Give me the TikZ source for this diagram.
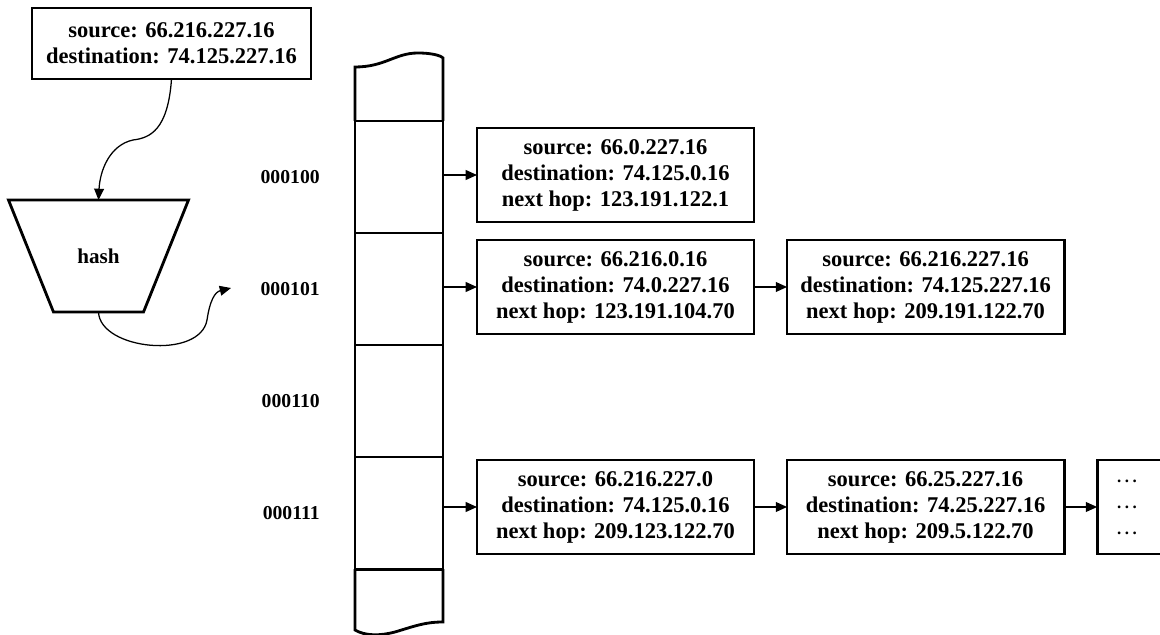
\documentclass[tikz,border=0pt]{standalone}
\usepackage{fontspec}
\setmainfont{Liberation Serif}
\usetikzlibrary{arrows.meta, positioning}
\newcommand{\moredots}{.\kern2.5pt.\kern2.5pt.}
\tikzset{
  entry/.style={rectangle, draw, line width=2pt, fill=white,
    minimum width=6.925cm, minimum height=2.35cm, align=center,
    font=\fontsize{16}{18.5}\selectfont\bfseries, inner sep=0pt, outer sep=0pt},
  slot/.style={rectangle, draw, line width=2pt,
    minimum width=2.2cm, minimum height=2.8cm, inner sep=0pt, outer sep=0pt},
  hashbox/.style={rectangle, minimum width=4.5cm, minimum height=2.8cm,
    inner sep=0pt, outer sep=0pt, font=\fontsize{15}{18}\selectfont\bfseries},
  label/.style={font=\fontsize{14}{17}\selectfont\bfseries, inner sep=0pt},
  edge/.style={line width=2pt},
  arrow/.style={-{Triangle[length=8pt, width=7pt]}, line width=0.9pt},
  curvearrow/.style={-{Triangle[length=8pt, width=7pt]}, line width=0.9pt}
}
\begin{document}
\begin{tikzpicture}[x=0.025cm, y=-0.025cm]
  \clip (0,0) rectangle (1160,635);
  % packet to hash
  \node[entry, minimum width=6.975cm, minimum height=1.775cm] (pkt) at (171.5,43.5)
    {source: 66.216.227.16\\destination: 74.125.227.16};
  \node[hashbox] (hash) at (98.5,256) {hash};
  \draw[edge] (hash.north west) -- (hash.north east)
    -- ([xshift=-1.125cm]hash.south east) -- ([xshift=1.125cm]hash.south west) -- cycle;
  \coordinate (hashout) at (231,288);

  % table
  \node[slot] (slot1) at (399,177) {};
  \node[slot, below=0cm of slot1] (slot2) {};
  \node[slot, below=0cm of slot2] (slot3) {};
  \node[slot, below=0cm of slot3] (slot4) {};
  \draw[edge] (slot1.north west) -- (355,67)
    .. controls (385,67) and (395,53) .. (418,53)
    .. controls (430,53) and (440,55) .. (443,58) -- (slot1.north east);
  \draw[edge] (slot4.south west) -- (355,630)
    .. controls (365,636) and (380,636) .. (395,632)
    .. controls (415,626) and (425,622) .. (443,622) -- (slot4.south east);
  \node[label, left=0.875cm of slot1] (key1) {000100};
  \node[label, left=0.875cm of slot2] (key2) {000101};
  \node[label, left=0.875cm of slot3] (key3) {000110};
  \node[label, left=0.875cm of slot4] (key4) {000111};

  % chains
  \node[entry] (e11) at (615.5,175)
    {source: 66.0.227.16\\destination: 74.125.0.16\\next hop: 123.191.122.1};
  \node[entry] (e21) at (615.5,287)
    {source: 66.216.0.16\\destination: 74.0.227.16\\next hop: 123.191.104.70};
  \node[entry, right=0.825cm of e21] (e22)
    {source: 66.216.227.16\\destination: 74.125.227.16\\next hop: 209.191.122.70};
  \node[entry] (e41) at (615.5,507)
    {source: 66.216.227.0\\destination: 74.125.0.16\\next hop: 209.123.122.70};
  \node[entry, right=0.825cm of e41] (e42)
    {source: 66.25.227.16\\destination: 74.25.227.16\\next hop: 209.5.122.70};
  \node[entry, right=0.825cm of e42, minimum width=2cm, text width=1.6cm, align=left,
    font=\fontsize{12}{18.5}\selectfont\bfseries] (e43)
    {\hspace{0.3cm}\moredots\\\hspace{0.3cm}\moredots\\\hspace{0.3cm}\moredots};

  \draw[curvearrow] (pkt.south) .. controls (168,130) and (150,138) .. (133,140)
    .. controls (110,145) and (100,170) .. (hash.north);
  \draw[curvearrow] (hash.south) .. controls (100,350) and (200,360) .. (207,320)
    .. controls (210,300) and (215,292) .. (hashout);

  \draw[arrow] (slot1.east |- e11.west) -- (e11.west);
  \draw[arrow] (slot2.east |- e21.west) -- (e21.west);
  \draw[arrow] (e21) -- (e22);
  \draw[arrow] (slot4.east |- e41.west) -- (e41.west);
  \draw[arrow] (e41) -- (e42);
  \draw[arrow] (e42) -- (e43);
\end{tikzpicture}
\end{document}
